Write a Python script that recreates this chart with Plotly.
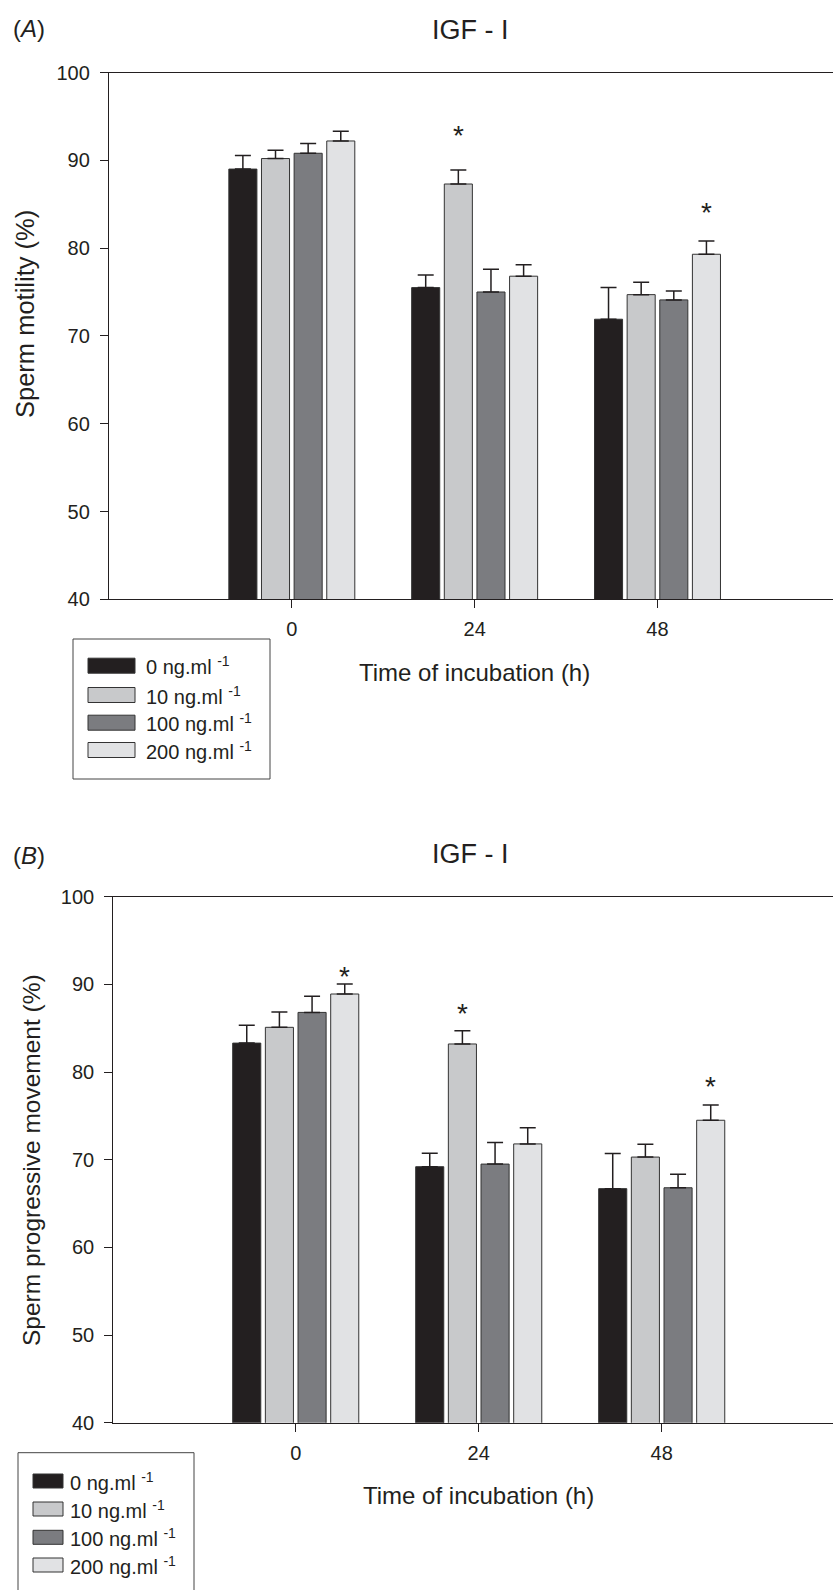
import plotly.graph_objects as go

# ---------------- data ----------------
times = ["0", "24", "48"]
conc_labels = ["0 ng.ml", "10 ng.ml", "100 ng.ml", "200 ng.ml"]
bar_colors = ["#231f20", "#c8c9cb", "#7b7c80", "#e1e2e4"]

# Panel A: sperm motility (%)
motility_0 = [89.0, 75.5, 71.9]
motility_10 = [90.2, 87.3, 74.7]
motility_100 = [90.8, 75.0, 74.1]
motility_200 = [92.2, 76.8, 79.3]
motility_err_0 = [1.55, 1.45, 3.6]
motility_err_10 = [0.95, 1.6, 1.4]
motility_err_100 = [1.1, 2.6, 1.0]
motility_err_200 = [1.1, 1.3, 1.5]

# Panel B: sperm progressive movement (%)
progressive_0 = [83.3, 69.2, 66.7]
progressive_10 = [85.1, 83.2, 70.3]
progressive_100 = [86.8, 69.5, 66.8]
progressive_200 = [88.9, 71.8, 74.5]
progressive_err_0 = [2.05, 1.55, 4.0]
progressive_err_10 = [1.75, 1.5, 1.45]
progressive_err_100 = [1.85, 2.45, 1.55]
progressive_err_200 = [1.15, 1.85, 1.75]

# significance marks: (time index, concentration index, height)
sig_A = [(1, 1, 93.6), (2, 3, 84.8)]
sig_B = [(0, 3, 91.7), (1, 1, 87.45), (2, 3, 79.2)]

panel_A_means = [motility_0, motility_10, motility_100, motility_200]
panel_A_errs = [motility_err_0, motility_err_10, motility_err_100, motility_err_200]
panel_B_means = [progressive_0, progressive_10, progressive_100, progressive_200]
panel_B_errs = [progressive_err_0, progressive_err_10, progressive_err_100, progressive_err_200]

# ---------------- figure ----------------
W, H = 833, 1590
FONT = "Liberation Sans, Arial, Helvetica, sans-serif"
INK = "#231f20"
BARGAP = 0.286
BARGROUPGAP = 0.14

fig = go.Figure()
xpos = list(range(len(times)))

def add_panel(means, errs, xa, ya):
    for name, m, e, c in zip(conc_labels, means, errs, bar_colors):
        fig.add_trace(go.Bar(
            x=xpos, y=m, name=name, marker=dict(color=c, line=dict(color="#333333", width=1)),
            error_y=dict(type="data", symmetric=False, array=e, arrayminus=[0] * len(e),
                         color=INK, thickness=1.5, width=8),
            xaxis=xa, yaxis=ya, showlegend=False))

add_panel(panel_A_means, panel_A_errs, "x", "y")
add_panel(panel_B_means, panel_B_errs, "x2", "y2")

def px_x(p):
    return p / W

def px_y(p):
    return 1 - p / H

axis_common = dict(showgrid=False, zeroline=False, showline=True, linecolor=INK, linewidth=1.3,
                   ticks="outside", ticklen=8, tickwidth=1.3, tickcolor=INK, automargin=False,
                   tickfont=dict(family=FONT, size=20, color=INK))

fig.update_layout(
    width=W, height=H, margin=dict(l=0, r=0, t=0, b=0, pad=0, autoexpand=False),
    paper_bgcolor="white", plot_bgcolor="white", showlegend=False,
    barmode="group", bargap=BARGAP, bargroupgap=BARGROUPGAP,
    xaxis=dict(domain=[px_x(109), 1], range=[-1.0, 2.96], tickvals=xpos, ticktext=times,
               mirror=True, anchor="y", ticklabelstandoff=4, **axis_common),
    yaxis=dict(domain=[px_y(599.3), px_y(72.5)], range=[40, 100], dtick=10, anchor="x",
               ticklabelstandoff=6, **axis_common),
    xaxis2=dict(domain=[px_x(113.3), 1], range=[-0.997, 2.936], tickvals=xpos, ticktext=times,
                mirror=True, anchor="y2", ticklabelstandoff=4, **axis_common),
    yaxis2=dict(domain=[px_y(1422.7), px_y(896.7)], range=[40, 100], dtick=10, anchor="x2",
                ticklabelstandoff=6, **axis_common),
)

ann = []
slot = (1 - BARGAP) / len(conc_labels)

def add_stars(sig, xref, yref):
    for ti, ci, yv in sig:
        ann.append(dict(x=xpos[ti] + (ci - (len(conc_labels) - 1) / 2) * slot, y=yv,
                        xref=xref, yref=yref, text="*", showarrow=False,
                        font=dict(family=FONT, size=28, color=INK),
                        xanchor="center", yanchor="middle", yshift=-7))

add_stars(sig_A, "x", "y")
add_stars(sig_B, "x2", "y2")

def text_ann(x, y, text, size, angle=0, xanchor="center"):
    ann.append(dict(x=px_x(x), y=px_y(y), xref="paper", yref="paper", text=text,
                    showarrow=False, textangle=angle, xanchor=xanchor, yanchor="middle",
                    font=dict(family=FONT, size=size, color=INK)))

# panel labels and titles
text_ann(11, 29, "(<i>A</i>)", 24, xanchor="left")
text_ann(470, 30, "IGF - I", 27)
text_ann(25, 314, "Sperm motility (%)", 25.5, angle=-90)
text_ann(474, 672, "Time of incubation (h)", 24)

text_ann(11, 855, "(<i>B</i>)", 24, xanchor="left")
text_ann(470, 854, "IGF - I", 27)
text_ann(31, 1160, "Sperm progressive movement (%)", 24.5, angle=-90)
text_ann(478, 1495, "Time of incubation (h)", 24)

# legends (drawn as shapes + text)
shapes = []

def legend(box, sw_x0, sw_x1, sw_h, rows, text_x):
    x0, y0, x1, y1 = box
    shapes.append(dict(type="rect", xref="paper", yref="paper", x0=px_x(x0), x1=px_x(x1),
                       y0=px_y(y1), y1=px_y(y0), line=dict(color="#444444", width=1),
                       fillcolor="rgba(0,0,0,0)"))
    for name, c, yc in zip(conc_labels, bar_colors, rows):
        shapes.append(dict(type="rect", xref="paper", yref="paper", x0=px_x(sw_x0), x1=px_x(sw_x1),
                           y0=px_y(yc + sw_h / 2), y1=px_y(yc - sw_h / 2),
                           line=dict(color="#333333", width=1), fillcolor=c))
        text_ann(text_x, yc, name + " <sup>-1</sup>", 20, xanchor="left")

legend((73, 639, 270, 779), 88, 135, 15, [665.7, 695, 722.7, 750], 144)
legend((18, 1452.7, 194, 1620), 33, 63, 14, [1481, 1509, 1537.3, 1565], 68)

fig.update_layout(annotations=ann, shapes=shapes)
fig.write_html("out.html", config={"displayModeBar": False},
               post_script="document.body.style.margin='0';document.body.style.overflow='hidden';")
